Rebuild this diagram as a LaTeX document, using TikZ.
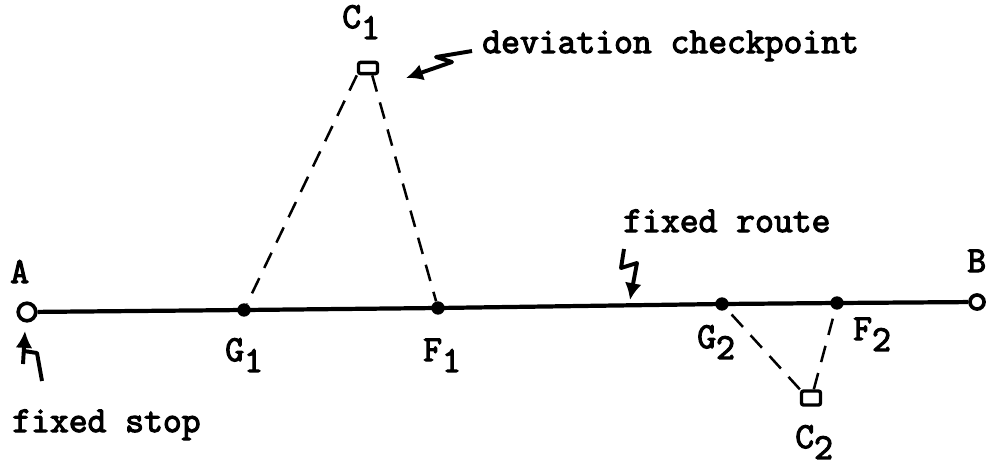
\documentclass[tikz,border=0pt]{standalone}
\usepackage{fontspec}
\newfontfamily\typer{Latin Modern Mono}[FakeBold=3.2]
\usetikzlibrary{arrows.meta}

\newcommand{\dropidx}[1]{\raisebox{-0.3em}{#1}}

\begin{document}
\begin{tikzpicture}[
    x=0.025cm, y=-0.025cm,
    typed/.style={font=\fontsize{26}{30}\selectfont\typer, inner sep=0, anchor=base west},
    stop/.style={draw, circle, line width=2.6pt, minimum size=12.5pt, inner sep=0, fill=white},
    junction/.style={circle, fill, minimum size=9.5pt, inner sep=0},
    checkpt/.style={draw, rectangle, rounded corners=1.5pt, line width=2.4pt, minimum width=13.5pt, minimum height=8pt, inner sep=0, fill=white},
    route/.style={line width=3pt},
    detour/.style={line width=1.8pt, dash pattern=on 12pt off 8pt},
    squig/.style={line width=2.8pt, line join=round, -{Latex[length=12pt,width=12pt]}},
    limb/.style={line width=2.8pt, line join=round}
]
\useasboundingbox (0,0) rectangle (990,468);

% stops, junctions and checkpoints
\node[stop] (A) at (27,312) {};
\node[stop, minimum size=10pt] (B) at (977,302) {};
\node[junction] (G1) at (244,310) {};
\node[junction] (F1) at (438,308) {};
\node[junction] (G2) at (722,304) {};
\node[junction] (F2) at (837,303) {};
\node[checkpt] (C1) at (368,68) {};
\node[checkpt, minimum height=10pt] (C2) at (811,398) {};

% fixed route and deviations
\draw[route] (A) -- (G1.center) -- (F1.center) -- (G2.center) -- (F2.center) -- (B);
\draw[detour] (C1.south west) -- (G1);
\draw[detour] ([xshift=3pt]C1.south) -- (F1);
\draw[detour] (C2.north west) -- (G2);
\draw[detour] ([xshift=2pt]C2.north) -- (F2);

% labels
\node[typed] (Alab) at (10,283) {A};
\node[typed] (Blab) at (967,272) {B};
\node[typed] (C1lab) at (342,28) {C\dropidx{1}};
\node[typed] (C2lab) at (795,448) {C\dropidx{2}};
\node[typed] (G1lab) at (225,361) {G\dropidx{1}};
\node[typed] (F1lab) at (423,361) {F\dropidx{1}};
\node[typed] (G2lab) at (697,348) {G\dropidx{2}};
\node[typed] (F2lab) at (853,340) {F\dropidx{2}};
\node[typed] (devlab) at (482,53) {deviation checkpoint};
\node[typed] (routelab) at (623,232) {fixed route};
\node[typed] (stoplab) at (12,432) {fixed stop};

% pointers
\coordinate (devtail) at (472,51);
\coordinate (devtip) at (406,78);
\draw[squig] (devtail) -- (436,57) -- (452,62) -- (devtip);
\coordinate (routetail) at (624,249);
\coordinate (routetip) at (630,300);
\draw[squig] (routetail) -- (621,268) -- (637,263) -- (routetip);
\coordinate (stoptail) at (23,364);
\coordinate (stoptip) at (25,331);
\draw[squig] (stoptail) -- (stoptip);
\draw[limb] (24,351) -- (37,353) -- (42,381);
\end{tikzpicture}
\end{document}
